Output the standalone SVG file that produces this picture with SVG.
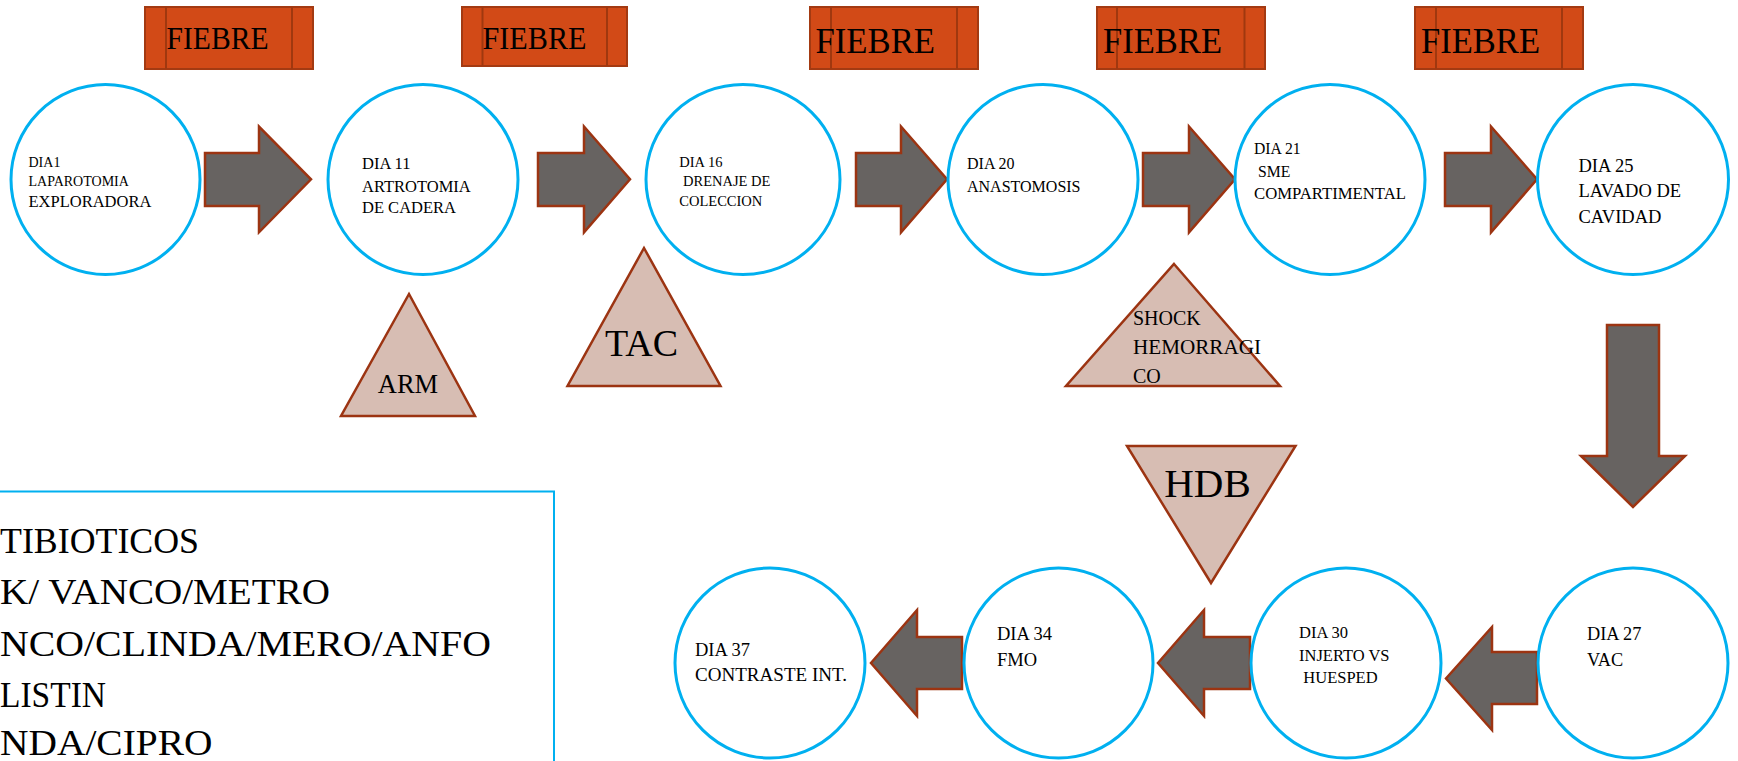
<svg xmlns="http://www.w3.org/2000/svg" width="1738" height="761" viewBox="0 0 1738 761" font-family="'Liberation Serif', 'Times New Roman', serif">
<style>
.bg{fill:#ffffff}
.node ellipse{fill:#ffffff;stroke:#00B0F0;stroke-width:3}
.fb rect{fill:#D24A17;stroke:#A33A12;stroke-width:2}
.fb line{stroke:#A0380F;stroke-width:2}
.arrow{fill:#676361;stroke:#9C3412;stroke-width:2.5;stroke-linejoin:miter}
.tri polygon{fill:#D7BDB3;stroke:#9C3412;stroke-width:2.5}
.t{font-family:'Liberation Serif','Times New Roman',serif;fill:#000000}
.legend rect{fill:none;stroke:#00B0F0;stroke-width:2}
</style>
<rect class="bg" x="0" y="0" width="1738" height="761"/>

<!-- FIEBRE labels -->
<g id="fiebre1" class="fb"><rect x="145" y="7" width="168" height="62"/><line x1="166" y1="7" x2="166" y2="69"/><line x1="292" y1="7" x2="292" y2="69"/><text class="t" font-family="Liberation Serif" x="166.5" y="48.5" font-size="31" textLength="102" lengthAdjust="spacingAndGlyphs">FIEBRE</text></g>
<g id="fiebre2" class="fb"><rect x="462" y="7" width="165" height="59"/><line x1="482.5" y1="7" x2="482.5" y2="66"/><line x1="607" y1="7" x2="607" y2="66"/><text class="t" font-family="Liberation Serif" x="482.5" y="49" font-size="31" textLength="104" lengthAdjust="spacingAndGlyphs">FIEBRE</text></g>
<g id="fiebre3" class="fb"><rect x="810" y="7" width="168" height="62"/><line x1="831" y1="7" x2="831" y2="69"/><line x1="957" y1="7" x2="957" y2="69"/><text class="t" font-family="Liberation Serif" x="815.5" y="53.3" font-size="36" textLength="119.5" lengthAdjust="spacingAndGlyphs">FIEBRE</text></g>
<g id="fiebre4" class="fb"><rect x="1097" y="7" width="168" height="62"/><line x1="1117" y1="7" x2="1117" y2="69"/><line x1="1244.5" y1="7" x2="1244.5" y2="69"/><text class="t" font-family="Liberation Serif" x="1103" y="53.3" font-size="36" textLength="119" lengthAdjust="spacingAndGlyphs">FIEBRE</text></g>
<g id="fiebre5" class="fb"><rect x="1415" y="7" width="168" height="62"/><line x1="1436" y1="7" x2="1436" y2="69"/><line x1="1562" y1="7" x2="1562" y2="69"/><text class="t" font-family="Liberation Serif" x="1421" y="53.3" font-size="36" textLength="119" lengthAdjust="spacingAndGlyphs">FIEBRE</text></g>

<!-- Connectors (block arrows) -->
<g id="connectors">
<path class="arrow" d="M205,153 H259 V126.5 L311,179.3 L259,232.3 V206 H205 Z"/>
<path class="arrow" d="M538,153 H584 V126.5 L630,179.3 L584,232.3 V206 H538 Z"/>
<path class="arrow" d="M856,153 H901 V126.5 L947,179.3 L901,232.3 V206 H856 Z"/>
<path class="arrow" d="M1143,153 H1189 V126.5 L1235,179.3 L1189,232.3 V206 H1143 Z"/>
<path class="arrow" d="M1445,153 H1491 V126.5 L1537,179.3 L1491,232.3 V206 H1445 Z"/>
<path class="arrow" d="M1607,325 H1659 V456 H1685 L1633,507 L1581,456 H1607 Z"/>
<path class="arrow" d="M1537,652 H1492 V627 L1446,678.5 L1492,730 V704 H1537 Z"/>
<path class="arrow" d="M1250,637 H1204 V610 L1158,663 L1204,716 V689 H1250 Z"/>
<path class="arrow" d="M962,637 H917 V610 L871,663 L917,716 V689 H962 Z"/>
</g>

<!-- Row 1 nodes -->
<g id="dia1" class="node"><ellipse cx="105.5" cy="179.5" rx="94.5" ry="95"/>
<text class="t" font-family="Liberation Serif" x="28.5" y="166.7" font-size="14">DIA1</text>
<text class="t" font-family="Liberation Serif" x="28.5" y="186" font-size="14">LAPAROTOMIA</text>
<text class="t" font-family="Liberation Serif" x="28.5" y="207.3" font-size="16.5">EXPLORADORA</text></g>
<g id="dia11" class="node"><ellipse cx="423" cy="179.5" rx="95" ry="95"/>
<text class="t" font-family="Liberation Serif" x="362" y="169" font-size="16.5">DIA 11</text>
<text class="t" font-family="Liberation Serif" x="362" y="191.7" font-size="16.5">ARTROTOMIA</text>
<text class="t" font-family="Liberation Serif" x="362" y="213.3" font-size="16.5">DE CADERA</text></g>
<g id="dia16" class="node"><ellipse cx="743" cy="179.5" rx="97" ry="95"/>
<text class="t" font-family="Liberation Serif" x="679.3" y="166.7" font-size="14.5">DIA 16</text>
<text class="t" font-family="Liberation Serif" x="683" y="185.7" font-size="14.5">DRENAJE DE</text>
<text class="t" font-family="Liberation Serif" x="679.3" y="205.7" font-size="14.5">COLECCION</text></g>
<g id="dia20" class="node"><ellipse cx="1043" cy="179.5" rx="95" ry="95"/>
<text class="t" font-family="Liberation Serif" x="967" y="169" font-size="16">DIA 20</text>
<text class="t" font-family="Liberation Serif" x="967" y="191.7" font-size="16">ANASTOMOSIS</text></g>
<g id="dia21" class="node"><ellipse cx="1330" cy="179.5" rx="95" ry="95"/>
<text class="t" font-family="Liberation Serif" x="1254" y="154" font-size="15.7">DIA 21</text>
<text class="t" font-family="Liberation Serif" x="1258" y="176.7" font-size="15.7">SME</text>
<text class="t" font-family="Liberation Serif" x="1254" y="199" font-size="15.7" textLength="152" lengthAdjust="spacingAndGlyphs">COMPARTIMENTAL</text></g>
<g id="dia25" class="node"><ellipse cx="1633" cy="179.5" rx="95.5" ry="95"/>
<text class="t" font-family="Liberation Serif" x="1578.5" y="171.7" font-size="18.5">DIA 25</text>
<text class="t" font-family="Liberation Serif" x="1578.5" y="196.7" font-size="18.5">LAVADO DE</text>
<text class="t" font-family="Liberation Serif" x="1578.5" y="222.7" font-size="18.5">CAVIDAD</text></g>

<!-- Row 2 nodes -->
<g id="dia27" class="node"><ellipse cx="1633" cy="663" rx="95" ry="95"/>
<text class="t" font-family="Liberation Serif" x="1587" y="640" font-size="18.3">DIA 27</text>
<text class="t" font-family="Liberation Serif" x="1587" y="665.7" font-size="18.3">VAC</text></g>
<g id="dia30" class="node"><ellipse cx="1346" cy="663" rx="95" ry="95"/>
<text class="t" font-family="Liberation Serif" x="1299" y="638.3" font-size="16.5">DIA 30</text>
<text class="t" font-family="Liberation Serif" x="1299" y="660.7" font-size="16.5">INJERTO VS</text>
<text class="t" font-family="Liberation Serif" x="1303.3" y="683.3" font-size="16.5">HUESPED</text></g>
<g id="dia34" class="node"><ellipse cx="1058.5" cy="663" rx="94.5" ry="95"/>
<text class="t" font-family="Liberation Serif" x="997" y="640" font-size="18.5">DIA 34</text>
<text class="t" font-family="Liberation Serif" x="997" y="666" font-size="18.5">FMO</text></g>
<g id="dia37" class="node"><ellipse cx="770" cy="663" rx="95" ry="95"/>
<text class="t" font-family="Liberation Serif" x="695" y="656" font-size="18.5">DIA 37</text>
<text class="t" font-family="Liberation Serif" x="695" y="681" font-size="18.5" textLength="152" lengthAdjust="spacingAndGlyphs">CONTRASTE INT.</text></g>

<!-- Event triangles -->
<g id="arm" class="tri"><polygon points="409,294 475,416 341,416"/>
<text class="t" font-family="Liberation Serif" x="408" y="393" font-size="26.5" text-anchor="middle">ARM</text></g>
<g id="tac" class="tri"><polygon points="644,248 720.5,386 567.5,386"/>
<text class="t" font-family="Liberation Serif" x="641.5" y="356" font-size="38" text-anchor="middle">TAC</text></g>
<g id="shock" class="tri"><polygon points="1174,264 1280,386 1066,386"/>
<text class="t" font-family="Liberation Serif" x="1133" y="325" font-size="20">SHOCK</text>
<text class="t" font-family="Liberation Serif" x="1133" y="354" font-size="20" textLength="128" lengthAdjust="spacingAndGlyphs">HEMORRAGI</text>
<text class="t" font-family="Liberation Serif" x="1133" y="383" font-size="20">CO</text></g>
<g id="hdb" class="tri"><polygon points="1127,446 1295.5,446 1211,583"/>
<text class="t" font-family="Liberation Serif" x="1207.5" y="497" font-size="41" text-anchor="middle">HDB</text></g>

<!-- Legend -->
<g id="legend" class="legend"><rect x="-10" y="491.5" width="564" height="300"/>
<text class="t" font-family="Liberation Serif" x="0" y="552.7" font-size="36" textLength="199" lengthAdjust="spacingAndGlyphs">TIBIOTICOS</text>
<text class="t" font-family="Liberation Serif" x="0" y="604" font-size="36" textLength="330" lengthAdjust="spacingAndGlyphs">K/ VANCO/METRO</text>
<text class="t" font-family="Liberation Serif" x="0" y="656" font-size="36" textLength="491" lengthAdjust="spacingAndGlyphs">NCO/CLINDA/MERO/ANFO</text>
<text class="t" font-family="Liberation Serif" x="0" y="706.7" font-size="36" textLength="106" lengthAdjust="spacingAndGlyphs">LISTIN</text>
<text class="t" font-family="Liberation Serif" x="0" y="755" font-size="36" textLength="212.5" lengthAdjust="spacingAndGlyphs">NDA/CIPRO</text></g>
</svg>
